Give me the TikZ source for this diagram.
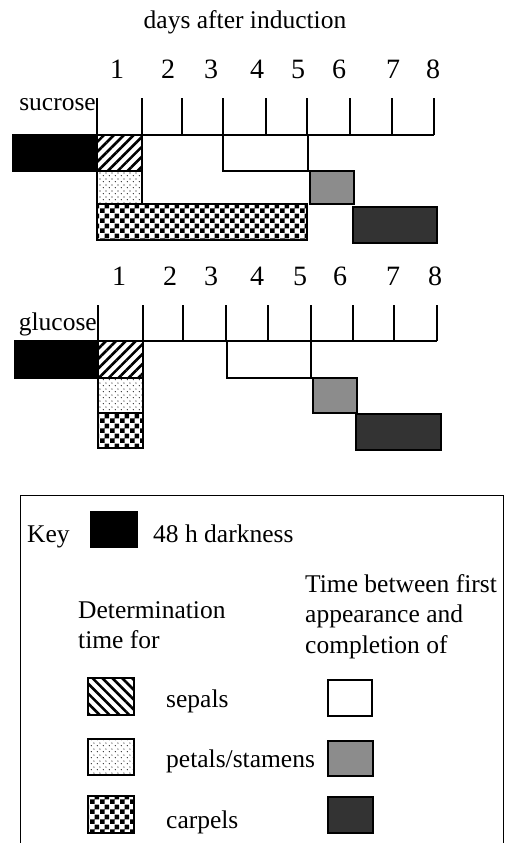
\documentclass[tikz,border=0pt]{standalone}
\usepackage{fontspec}
\setmainfont{Liberation Serif}
\usetikzlibrary{patterns,patterns.meta}

\pgfdeclarepatternformonly{bigchecker}{\pgfpointorigin}{\pgfqpoint{10pt}{10pt}}{\pgfqpoint{10pt}{10pt}}{%
 \pgfpathrectangle{\pgfpointorigin}{\pgfqpoint{5pt}{5pt}}%
 \pgfpathrectangle{\pgfqpoint{5pt}{5pt}}{\pgfqpoint{5pt}{5pt}}%
 \pgfusepath{fill}}
\pgfdeclarepatternformonly{sparsedots}{\pgfpointorigin}{\pgfqpoint{6pt}{6pt}}{\pgfqpoint{6pt}{6pt}}{%
 \pgfpathcircle{\pgfqpoint{1.5pt}{1.5pt}}{0.7pt}%
 \pgfpathcircle{\pgfqpoint{4.5pt}{4.5pt}}{0.7pt}%
 \pgfusepath{fill}}

\tikzset{
  lbl/.style={font=\fontsize{25.5}{28}\selectfont, inner sep=0pt, anchor=base west},
  num/.style={font=\fontsize{28}{30}\selectfont, inner sep=0pt, anchor=base},
  bar/.style={line width=1.6pt, draw=black},
  darkness/.style={bar, fill=black},
  sepalA/.style={bar, pattern={Lines[angle=45,distance=7pt,line width=2.6pt]}},
  sepalB/.style={bar, pattern={Lines[angle=-45,distance=7pt,line width=2.6pt]}},
  petal/.style={bar, pattern=sparsedots},
  carpel/.style={bar, pattern=bigchecker},
  sepalapp/.style={bar, fill=white},
  petalapp/.style={bar, fill=black!45},
  carpelapp/.style={bar, fill=black!80},
  tickline/.style={line width=1.6pt},
}

\begin{document}
\begin{tikzpicture}[x=1pt,y=-1pt]
\useasboundingbox (0,0) rectangle (505,843);

% title
\node[num, font=\fontsize{25.5}{28}\selectfont] (title) at (245,29) {days after induction};

% ---------- sucrose ----------
\foreach \i/\x in {1/117,2/168,3/211,4/257,5/298,6/339,7/393,8/433}
  \node[num] (sn\i) at (\x,78) {\i};
\node[lbl, anchor=base east] (suc) at (96,110) {sucrose};
\foreach \x in {97,142,182,223,266,307,350,392,434}
  \draw[tickline] (\x,98) -- (\x,135);
\draw[tickline] (97,135) -- (434,135);

\draw[darkness] (13,135) rectangle (97,171);
\draw[sepalA] (97,135) rectangle (142,171);
\draw[sepalapp] (223,135) rectangle (308,171);
\draw[petal] (97,171) rectangle (142,204);
\draw[petalapp] (310,171) rectangle (354,204);
\draw[carpel] (97,204) rectangle (307,240);
\draw[carpelapp] (353,207) rectangle (437,243);

% ---------- glucose ----------
\foreach \i/\x in {1/119,2/170,3/211,4/257,5/300,6/340,7/393,8/435}
  \node[num] (gn\i) at (\x,285) {\i};
\node[lbl, anchor=base east] (glu) at (97,330) {glucose};
\foreach \x in {98,143,183,226,268,311,353,394,437}
  \draw[tickline] (\x,305) -- (\x,341);
\draw[tickline] (98,341) -- (437,341);

\draw[darkness] (15,341) rectangle (98,378);
\draw[sepalA] (98,341) rectangle (143,378);
\draw[sepalapp] (227,341) rectangle (311,378);
\draw[petal] (98,378) rectangle (143,413);
\draw[petalapp] (313,378) rectangle (357,413);
\draw[carpel] (98,413) rectangle (143,448);
\draw[carpelapp] (356,414) rectangle (441,450);

% ---------- key ----------
\draw[line width=1pt] (20,843) -- (20,495) -- (503,495) -- (503,843);
\node[lbl] (key) at (27,542) {Key};
\draw[darkness, line width=0.8pt] (90,511) rectangle (137,547);
\node[lbl] (dk) at (153,542) {48 h darkness};

\node[lbl] (det1) at (78,618) {Determination};
\node[lbl] (det2) at (78,648) {time for};
\node[lbl] (tb1) at (305,592) {Time between first};
\node[lbl] (tb2) at (305,622) {appearance and};
\node[lbl] (tb3) at (305,653) {completion of};

\draw[sepalB] (88,678) rectangle (134,715);
\node[lbl] (ksep) at (166,707) {sepals};
\draw[sepalapp] (328,680) rectangle (372,716);

\draw[petal] (88,739) rectangle (134,775);
\node[lbl] (kpet) at (166,767) {petals/stamens};
\draw[petalapp] (328,741) rectangle (373,776);

\draw[carpel] (88,796) rectangle (134,833);
\node[lbl] (kcar) at (166,828) {carpels};
\draw[carpelapp] (328,797) rectangle (373,833);
\end{tikzpicture}
\end{document}
